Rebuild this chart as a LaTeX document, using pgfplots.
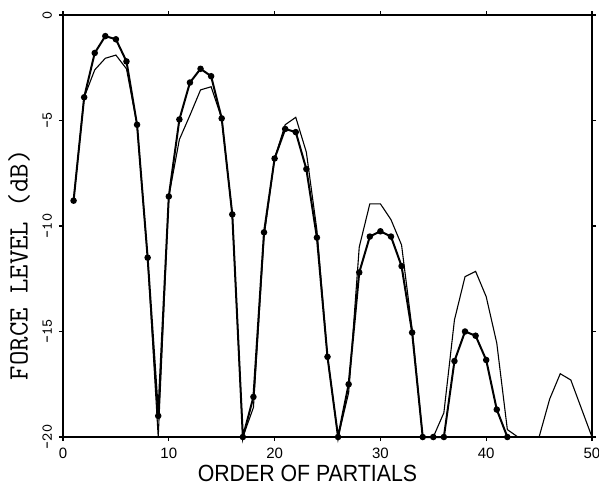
\documentclass[border=0pt]{standalone}
\usepackage{fontspec}
\usepackage{graphicx}
\usepackage{pgfplots}
\pgfplotsset{compat=1.18}
\setmainfont{Liberation Sans}

\pgfplotstableread{
x y
1 -8.8
2 -3.9
3 -1.8
4 -1.0
5 -1.15
6 -2.2
7 -5.2
8 -11.5
9 -19.0
10 -8.6
11 -4.95
12 -3.2
13 -2.55
14 -2.9
15 -4.9
16 -9.45
17 -20
18 -18.1
19 -10.3
20 -6.8
21 -5.4
22 -5.55
23 -7.3
24 -10.55
25 -16.2
26 -20
27 -17.5
28 -12.2
29 -10.5
30 -10.25
31 -10.5
32 -11.9
33 -15.05
34 -20
35 -20
36 -20
37 -16.4
38 -15.0
39 -15.2
40 -16.35
41 -18.7
42 -20
}\marked

\pgfplotstableread{
x y
1 -8.8
2 -3.9
3 -2.6
4 -2.05
5 -1.9
6 -2.55
7 -5.2
8 -11.5
9 -20
10 -8.6
11 -5.9
12 -4.75
13 -3.55
14 -3.4
15 -4.9
16 -9.45
17 -20
18 -18.6
19 -10.5
20 -6.8
21 -5.2
22 -4.85
23 -6.5
24 -10.2
25 -16.2
26 -20
27 -17.9
28 -11.0
29 -8.95
30 -8.95
31 -9.7
32 -10.9
33 -14.9
34 -20
35 -20
36 -18.85
37 -14.45
38 -12.4
39 -12.15
40 -13.35
41 -15.55
42 -19.65
43 -20
44 -20
45 -20
46 -18.2
47 -17.0
48 -17.3
49 -18.65
50 -20
}\plain

\begin{document}
\begin{tikzpicture}
\useasboundingbox (-31.5pt,-25.5pt) rectangle (268pt,218.5pt);
\begin{axis}[
  at={(0,0)}, anchor=south west,
  scale only axis, width=264.5pt, height=211pt,
  xmin=0, xmax=50, ymin=-20, ymax=0,
  xtick={0,10,20,30,40,50}, ytick={-20,-15,-10,-5,0},
  tick align=outside, major tick length=2pt,
  axis line style={line width=0.8pt},
  every tick/.style={black, line width=0.6pt},
  /pgf/number format/assume math mode=true,
  xticklabel style={font=\fontsize{7.5}{9}\selectfont},
  yticklabel style={font=\ttfamily\fontsize{7.6}{9}\selectfont, rotate=90, anchor=south},
  xlabel={\scalebox{0.91}[1]{\fontsize{11.7}{14}\selectfont ORDER OF PARTIALS}},
  xlabel style={at={(axis description cs:0.462,-0.0853)}, anchor=center},
  ylabel={\ttfamily\fontsize{14}{16}\selectfont FORCE LEVEL (dB)},
  ylabel style={at={(axis description cs:-0.083,0.408)}, anchor=center},
  clip=false,
]
\addplot[black, line width=0.55pt, mark=none] table[x=x, y=y] {\plain};
\addplot[black, line width=1pt, mark=*, mark size=1.1pt, mark options={fill=black}] table[x=x, y=y] {\marked};
\end{axis}
\end{tikzpicture}
\end{document}
